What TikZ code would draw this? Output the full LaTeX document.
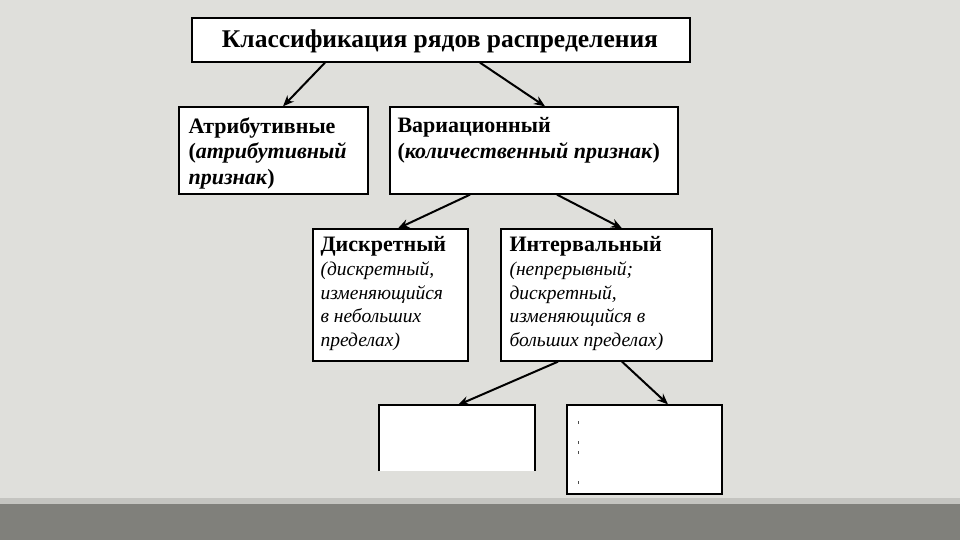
\documentclass[tikz,border=0pt]{standalone}
\usepackage{fontspec}
\setmainfont{Liberation Serif}
\usepackage{xcolor}
\usetikzlibrary{positioning,calc,arrows.meta}
\definecolor{slidegray}{RGB}{223,223,219}
\definecolor{bandlight}{RGB}{196,196,192}
\definecolor{banddark}{RGB}{128,128,123}

\begin{document}
\begin{tikzpicture}[x=1pt, y=-1pt, >={Stealth[length=11pt,width=9pt]}]
        \tikzset{
          box/.style={draw, line width=1.3pt, fill=white, inner sep=0pt},
          txt/.style={anchor=north west, align=left, inner sep=0pt},
          arr/.style={->, line width=2pt}
        }
        % Slide background
        \fill[slidegray] (0,0) rectangle (960,540);
        \useasboundingbox (0,0) rectangle (960,540);
        \fill[bandlight] (0,498) rectangle (960,504);
        \fill[banddark] (0,504) rectangle (960,540);

        % Title
        \node[box, minimum width=498pt, minimum height=44pt] (title) at (441,40) {};
        \node[font=\fontsize{25.5}{28}\selectfont\bfseries] (titletext) at (440,41) {Классификация рядов распределения};

        % Attributive
        \node[box, minimum width=189pt, minimum height=87pt] (attr) at (273.5,150.5) {};
        \node[txt, font=\fontsize{22}{25.5}\selectfont\bfseries] (attrtext) at ([shift={(10pt,-11pt)}]attr.north west)
          {Атрибутивные\\(\textit{атрибутивный}\\\textit{признак})};

        % Variational
        \node[box, minimum width=288pt, minimum height=87pt] (var) at (534,150.5) {};
        \node[txt, font=\fontsize{22}{25.5}\selectfont\bfseries] (vartext) at ([shift={(8pt,-11pt)}]var.north west)
          {Вариационный\\(\textit{количественный признак})};

        % Discrete
        \node[box, minimum width=155pt, minimum height=132pt] (disc) at (390.5,295) {};
        \node[txt, font=\fontsize{22}{25}\selectfont\bfseries] (disctitle) at ([shift={(8pt,-8pt)}]disc.north west) {Дискретный};
        \node[txt, font=\fontsize{19.5}{23.5}\selectfont\itshape, below=5pt of disctitle.south west, anchor=north west] (disctext)
          {(дискретный,\\изменяющийся\\в небольших\\пределах)};

        % Interval
        \node[box, minimum width=211pt, minimum height=132pt] (intv) at (606.5,295) {};
        \node[txt, font=\fontsize{22}{25}\selectfont\bfseries] (intvtitle) at ([shift={(9pt,-8pt)}]intv.north west) {Интервальный};
        \node[txt, font=\fontsize{19.5}{23.5}\selectfont\itshape, below=5pt of intvtitle.south west, anchor=north west] (intvtext)
          {(непрерывный;\\дискретный,\\изменяющийся в\\больших пределах)};

        % Lower boxes
        \fill[white] (379,405) rectangle (535,471);
        \coordinate (bl) at (457,405);
        \draw[line width=1.3pt] (379,471) -- (379,405) -- (535,405) -- (535,471);
        \node[box, minimum width=155pt, minimum height=89pt] (br) at (644.5,449.5) {};
        \foreach \yy in {423,443,453,483}
          \draw[line width=0.6pt, black!70] (578,\yy-2) -- (578,\yy+1);

        % Arrows
        \draw[arr] ([xshift=-116pt]title.south) -- ([xshift=9.5pt]attr.north);
        \draw[arr] ([xshift=39pt]title.south) -- ([xshift=11pt]var.north);
        \draw[arr] ([xshift=-64pt]var.south) -- ([xshift=7.5pt]disc.north);
        \draw[arr] ([xshift=23pt]var.south) -- ([xshift=15.5pt]intv.north);
        \draw[arr] ([xshift=-48.5pt]intv.south) -- ([xshift=1pt]bl);
        \draw[arr] ([xshift=15.5pt]intv.south) -- ([xshift=23.5pt]br.north);
\end{tikzpicture}
\end{document}
